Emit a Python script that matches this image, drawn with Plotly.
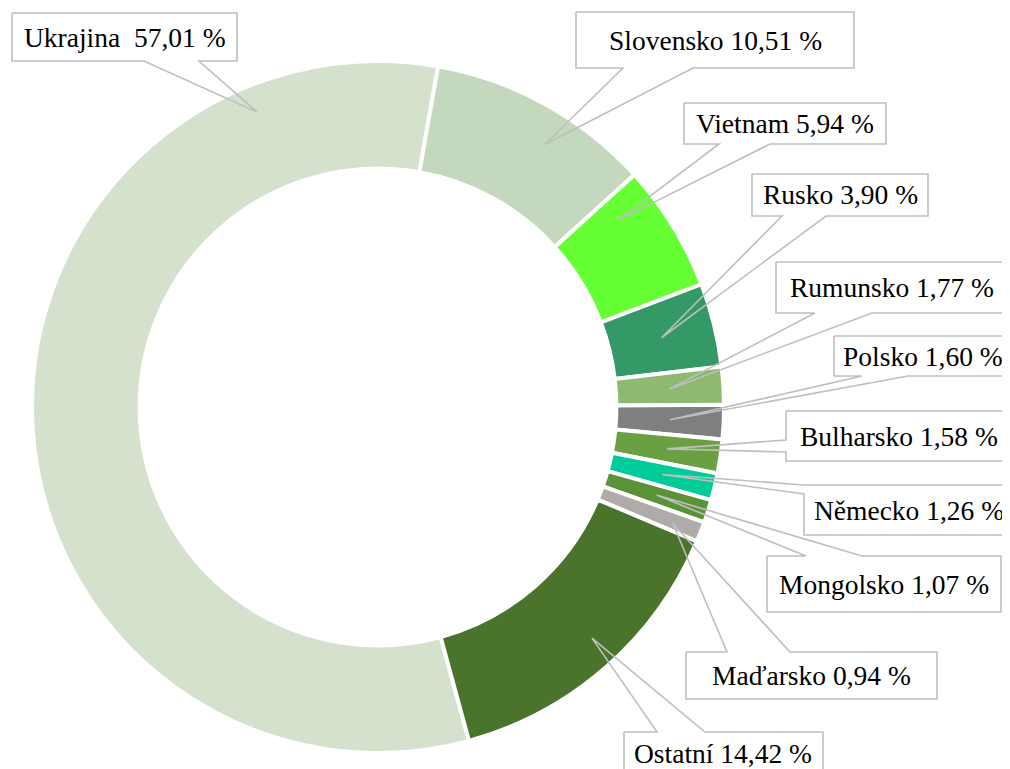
import math
import plotly.graph_objects as go

# ---------------- data ----------------
countries = ["Ukrajina", "Slovensko", "Vietnam", "Rusko", "Rumunsko", "Polsko",
             "Bulharsko", "Německo", "Mongolsko", "Maďarsko", "Ostatní"]
shares = [57.01, 10.51, 5.94, 3.90, 1.77, 1.60, 1.58, 1.26, 1.07, 0.94, 14.42]
colors = ["#D4E1CD", "#C4D8BD", "#66FF33", "#339966", "#8DB970", "#7F7F7F",
          "#6AA042", "#00CC99", "#5A9238", "#AFABAB", "#4A742C"]

# ---------------- layout constants (page pixels) ----------------
OFF = 8                    # page body margin in the browser
W, H = 1010 - OFF, 769 - OFF
CX, CY = 378, 407          # donut centre (page px)
R_OUT = 346
HOLE = 0.689
R_IN = R_OUT * HOLE
START_SECOND = 10.0        # angle (deg, clockwise from top) where 2nd slice starts

# callout boxes: (x0, y0, x1, y1, wedge side, base a, base b)
boxes = {
    "Ukrajina":  (12, 13, 237, 61, "bottom", 144, 199),
    "Slovensko": (576, 12, 854, 68, "bottom", 623, 693),
    "Vietnam":   (684, 103, 886, 144, "bottom", 719, 770),
    "Rusko":     (752, 174, 928, 216, "bottom", 782, 826),
    "Rumunsko":  (776, 262, 1008, 313, "bottom", 815, 872),
    "Polsko":    (834, 336, 1008, 376, "bottom", 862, 908),
    "Bulharsko": (786, 411, 1008, 461, "left", 440, 452),
    "Německo":   (804, 485, 1008, 535, "left", 485, 494),
    "Mongolsko": (767, 556, 1001, 612, "top", 806, 862),
    "Maďarsko":  (686, 652, 937, 699, "top", 727, 790),
    "Ostatní":   (624, 732, 823, 775, "top", 657, 705),
}
# text centre x overrides (where box runs off the page)
text_cx = {"Polsko": 923, "Bulharsko": 898.5, "Německo": 908.5, "Ostatní": 723}
# tip tweaks: (angle offset deg, radius px)
tip_tweak = {
    "Ukrajina": (70.3, 319),
    "Slovensko": (3.5, 311),
    "Vietnam": (-6.4, 304),
    "Maďarsko": (0.4, 317),
    "Ostatní": (-1.6, 315),
}
label_sep = {"Ukrajina": "\u00a0 "}

LINE = "#BFBFBF"
FONT = "Liberation Serif, Times New Roman, serif"


def px(x):
    return (x - OFF) / W


def py(y):
    return 1 - (y - OFF) / H


total = sum(shares)
rotation = START_SECOND - 360 * shares[0] / total

fig = go.Figure(go.Pie(
    labels=countries,
    values=shares,
    sort=False,
    direction="clockwise",
    rotation=rotation,
    hole=HOLE,
    marker=dict(colors=colors, line=dict(color="white", width=4)),
    textinfo="none",
    hoverinfo="label+percent",
    showlegend=False,
    domain=dict(x=[px(CX - R_OUT), px(CX + R_OUT)],
                y=[py(CY + R_OUT), py(CY - R_OUT)]),
))

shapes = []
annotations = []
cum = 0.0
for name, val in zip(countries, shares):
    a0 = rotation + 360 * cum / total
    a1 = rotation + 360 * (cum + val) / total
    cum += val
    mid = (a0 + a1) / 2
    d_ang, r_tip = tip_tweak.get(name, (0.0, (R_IN + R_OUT) / 2))
    ang = math.radians(mid + d_ang)
    tx = CX + r_tip * math.sin(ang)
    ty = CY - r_tip * math.cos(ang)

    x0, y0, x1, y1, side, ba, bb = boxes[name]
    if side == "bottom":
        pts = [(x0, y0), (x1, y0), (x1, y1), (bb, y1), (tx, ty), (ba, y1), (x0, y1), (x0, y0)]
    elif side == "top":
        pts = [(x0, y0), (ba, y0), (tx, ty), (bb, y0), (x1, y0), (x1, y1), (x0, y1), (x0, y0)]
    else:  # left
        pts = [(x0, y0), (x1, y0), (x1, y1), (x0, y1), (x0, bb), (tx, ty), (x0, ba), (x0, y0)]
    path = "M " + " L ".join(f"{px(x):.5f},{py(y):.5f}" for x, y in pts)
    shapes.append(dict(type="path", xref="paper", yref="paper", path=path,
                       line=dict(color=LINE, width=1.6),
                       fillcolor="rgba(0,0,0,0)", layer="above"))

    txt = f"{name}{label_sep.get(name, ' ')}{val:.2f}".replace(".", ",") + " %"
    cxx = text_cx.get(name, (x0 + x1) / 2)
    annotations.append(dict(x=px(cxx), y=py((y0 + y1) / 2), xref="paper", yref="paper",
                            text=txt, showarrow=False, xanchor="center", yanchor="middle",
                            font=dict(family=FONT, size=27.5, color="black")))

fig.update_layout(
    width=W, height=H,
    margin=dict(l=0, r=0, t=0, b=0),
    paper_bgcolor="white",
    plot_bgcolor="white",
    shapes=shapes,
    annotations=annotations,
)

fig.write_html("out.html")
